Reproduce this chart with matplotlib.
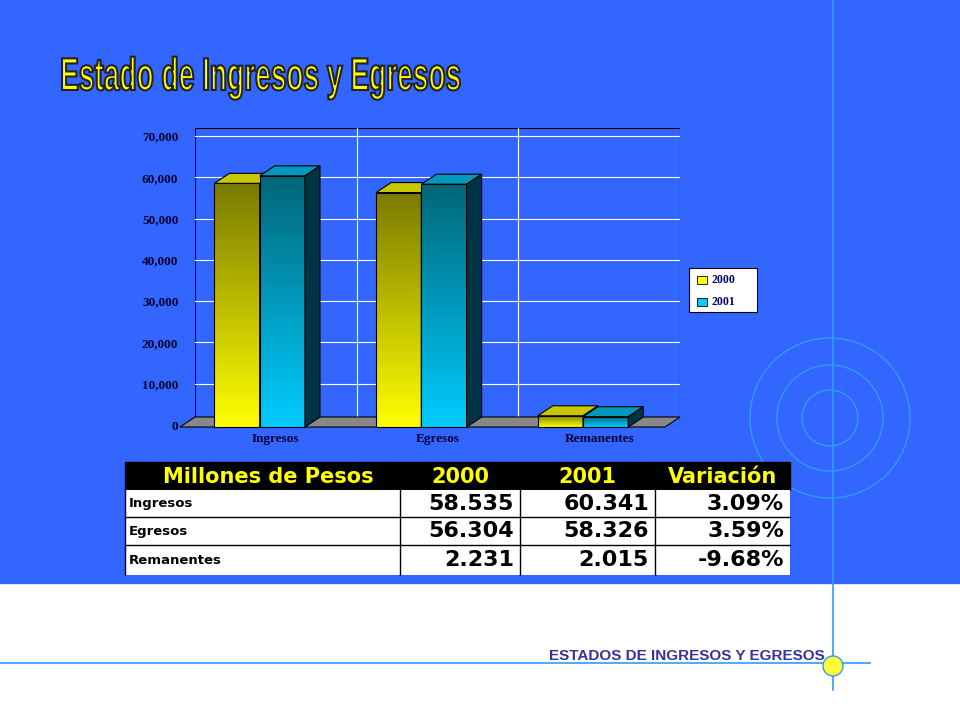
import matplotlib
matplotlib.use("Agg")
import matplotlib.pyplot as plt
import numpy as np
from matplotlib.patches import Rectangle, Polygon, Circle, PathPatch
from matplotlib.textpath import TextPath
from matplotlib.font_manager import FontProperties
from matplotlib.transforms import Affine2D
from matplotlib.colors import LinearSegmentedColormap

categories = ["Ingresos", "Egresos", "Remanentes"]
series_names = ["2000", "2001"]
v2000 = [58535, 56304, 2231]
v2001 = [60341, 58326, 2015]
variacion = ["3.09%", "3.59%", "-9.68%"]
yticks = [0, 10000, 20000, 30000, 40000, 50000, 60000, 70000]
title = "Estado de Ingresos y Egresos"

BLUE = "#3366FF"
W, H = 960, 720
fig = plt.figure(figsize=(9.6, 7.2), dpi=100)
fig.patch.set_facecolor("white")

bg = fig.add_axes([0, 0, 1, 1])
bg.set_xlim(0, W); bg.set_ylim(H, 0); bg.axis("off")
bg.add_patch(Rectangle((0, 0), W, 583, color=BLUE, zorder=0))
bg.plot([833, 833], [0, 690], color="#3399FF", lw=1.2, zorder=1)
bg.plot([0, 870], [663, 663], color="#3399FF", lw=1.2, zorder=1)
for r in (28, 53, 80):
    bg.add_patch(Circle((830, 418), r, fill=False, ec="#3399FF", lw=1, zorder=1))
bg.add_patch(Circle((833, 666), 10, fc="#FFFF33", ec="#3399FF", lw=1, zorder=3))
bg.text(825, 656, "ESTADOS DE INGRESOS Y EGRESOS", ha="right", va="center",
        fontsize=11, fontweight="bold", color="#333399", family="Liberation Sans")

# condensed title via scaled text path
tp = TextPath((0, 0), title, size=10, prop=FontProperties(family="Liberation Sans", weight="bold"))
ext = tp.get_extents()
sx = (460 - 62) / ext.width
sy = -4.6
tr = Affine2D().translate(-ext.x0, 0).scale(sx, sy).translate(62, 90)
path = tr.transform_path(tp)
bg.add_patch(PathPatch(path, fc="#FFFF00", ec="#222222", lw=1.5, zorder=5))

# table
cols = [125, 400, 520, 655, 790]
bg.add_patch(Rectangle((125, 462), 665, 28, color="black", zorder=2))
hdr = ["Millones de Pesos", "2000", "2001", "Variación"]
for i, h in enumerate(hdr):
    xc = (cols[i] + cols[i + 1]) / 2 if i > 0 else 268
    bg.text(xc, 477, h, ha="center", va="center", fontsize=15,
            fontweight="bold", color="#FFFF00", family="DejaVu Sans", zorder=3)
rows_y = [490, 517, 545, 575]
for r in range(3):
    bg.add_patch(Rectangle((125, rows_y[r]), 665, rows_y[r + 1] - rows_y[r],
                           fc="white", ec="none", zorder=2))
    ym = (rows_y[r] + rows_y[r + 1]) / 2
    bg.text(129, ym, categories[r], ha="left", va="center", fontsize=9.5,
            fontweight="bold", color="black", zorder=3)
    vals = [f"{v2000[r]/1000:.3f}", f"{v2001[r]/1000:.3f}", variacion[r]]
    for c, s in enumerate(vals):
        bg.text(cols[c + 2] - 6, ym, s, ha="right", va="center", fontsize=16,
                fontweight="bold", color="black", zorder=3)
for x in cols[1:4]:
    bg.plot([x, x], [490, 575], color="black", lw=1, zorder=3)
for y in rows_y[1:3]:
    bg.plot([125, 790], [y, y], color="black", lw=1, zorder=3)
bg.plot([125, 125], [490, 575], color="black", lw=1, zorder=3)

# legend
bg.add_patch(Rectangle((689, 268), 68, 44, fc="white", ec="black", lw=0.8, zorder=2))
for k, (nm, col) in enumerate(zip(series_names, ["#FFFF00", "#00CCFF"])):
    yy = 280 + k * 22
    bg.add_patch(Rectangle((697, yy - 4), 10, 8, fc=col, ec="black", lw=0.6, zorder=3))
    bg.text(712, yy, nm, ha="left", va="center", fontsize=8.5, fontweight="bold",
            color="#000066", family="Liberation Serif", zorder=3)

ypp = 70000 / (425 - 136)
ax = fig.add_axes([195 / W, 1 - 425 / H, 485 / W, (425 - 128) / H])
ax.set_xlim(0, 3); ax.set_ylim(0, (425 - 128) * ypp)
ax.patch.set_alpha(0)
for s in ax.spines.values():
    s.set_visible(False)
dx, dy = 0.093, 10 * ypp
ax.add_patch(Rectangle((0, 0), 3, (425 - 128) * ypp, fc=BLUE, ec="black", lw=0.8, zorder=0))
for y in yticks[1:]:
    ax.plot([0, 3], [y, y], color="white", lw=0.8, zorder=1)
for x in (1, 2):
    ax.plot([x, x], [0, (425 - 128) * ypp], color="white", lw=0.8, zorder=1)
ax.add_patch(Polygon([(-dx, -dy * 0.2), (3 - dx, -dy * 0.2), (3, dy * 0.8), (0, dy * 0.8)],
                     closed=True, fc="#888888", ec="black", lw=0.8, zorder=1, clip_on=False))

cm0 = LinearSegmentedColormap.from_list("a", ["#FFFF00", "#7A7A00"])
cm1 = LinearSegmentedColormap.from_list("b", ["#00CCFF", "#006677"])
grad = np.linspace(0, 1, 256).reshape(-1, 1)
w = 0.28
for i in range(3):
    for s, (vals, cm, top, side) in enumerate([(v2000, cm0, "#C8C800", "#555500"),
                                               (v2001, cm1, "#0099BB", "#003344")]):
        x0 = i + 0.12 + s * w
        v = vals[i]
        yb = -dy * 0.2
        ax.imshow(grad, extent=(x0, x0 + w, yb, v), aspect="auto", cmap=cm,
                  origin="lower", zorder=3 + s, clip_on=False)
        ax.add_patch(Rectangle((x0, yb), w, v - yb, fill=False, ec="black", lw=0.8,
                               zorder=3.5 + s, clip_on=False))
        ax.add_patch(Polygon([(x0, v), (x0 + w, v), (x0 + w + dx, v + dy), (x0 + dx, v + dy)],
                             fc=top, ec="black", lw=0.8, zorder=3.5 + s, clip_on=False))
        ax.add_patch(Polygon([(x0 + w, yb), (x0 + w + dx, yb + dy), (x0 + w + dx, v + dy), (x0 + w, v)],
                             fc=side, ec="black", lw=0.8, zorder=3.5 + s, clip_on=False))
ax.set_yticks(yticks)
ax.set_yticklabels([f"{y:,}" for y in yticks], fontsize=9.5, fontweight="bold",
                   family="Liberation Serif", color="#000033")
ax.set_xticks([0.5, 1.5, 2.5])
ax.set_xticklabels(categories, fontsize=9.5, fontweight="bold",
                   family="Liberation Serif", color="#000033")
ax.tick_params(axis="y", length=0, pad=12)
ax.tick_params(axis="x", length=0, pad=6)
ax.set_xlim(0, 3)

fig.savefig("out.png", dpi=100, facecolor=fig.get_facecolor())
